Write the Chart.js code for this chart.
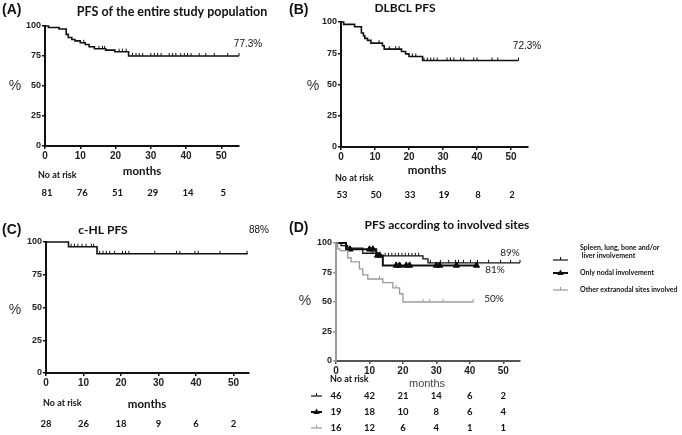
<!DOCTYPE html>
<html>
<head>
<meta charset="utf-8">
<script src="https://cdn.jsdelivr.net/npm/chart.js@4.4.0/dist/chart.umd.min.js"></script>
<style>
  html, body { margin: 0; padding: 0; background: #fff; }
  #wrap { position: relative; width: 682px; height: 435px; overflow: hidden; }
  canvas { position: absolute; }
</style>
</head>
<body>
<div id="wrap">
  <canvas id="chartA"></canvas>
  <canvas id="chartB"></canvas>
  <canvas id="chartC"></canvas>
  <canvas id="chartD"></canvas>
</div>
<script>
// shared axis ticks
const xTicks = [0, 10, 20, 30, 40, 50];
const yTicks = [0, 25, 50, 75, 100];
const riskMonths = [0, 10, 20, 30, 40, 50];

// (A) entire study population
const monthsA = [0, 1, 4, 6, 6.6, 7.6, 8.5, 10, 11.4, 12.5, 14, 17.2, 19.8, 23.7, 55];
const survA = [100, 98.8, 97.5, 93, 90.4, 88.7, 87.6, 86, 84.6, 82.7, 81, 79.9, 78.6, 75, 75];
const censorA = [11, 15.3, 16.3, 16.9, 21, 22, 23, 24.8, 25.8, 26.7, 27.7, 30, 31, 31.9, 32.9, 35.2, 36.2,
  37.1, 38.5, 39.5, 40.4, 41.4, 43.7, 45.6, 48, 51.8, 55];
const riskA = [81, 76, 51, 29, 14, 5];

// (B) DLBCL
const monthsB = [0, 0.8, 4, 6, 6.6, 7, 7.8, 8.8, 12.2, 12.7, 17.8, 19, 20, 24, 52.2];
const survB = [100, 98.1, 96.2, 91.2, 89, 86.9, 85.3, 83.1, 81, 78.3, 76.4, 74.5, 72.4, 69.2, 69.2];
const censorB = [11.2, 14.2, 16.1, 17.1, 21, 22, 24.4, 25.4, 26.4, 27.3, 28.3, 31.2, 32.2, 33.2, 35.2, 36.1,
  39, 40, 44.4, 46.1, 52.2];
const riskB = [53, 50, 33, 19, 8, 2];

// (C) c-HL
const monthsC = [0, 6, 13.6, 53.8];
const survC = [100, 96.4, 91, 91];
const censorC = [6.7, 7.6, 8.5, 9.6, 10.7, 12.1, 12.7, 14.3, 15.2, 16.1, 17, 18.3, 20.4, 21.2, 22.1, 29,
  34.8, 35.7, 39.7, 40.6, 46.4, 53.6];
const riskC = [28, 26, 18, 9, 6, 2];

// (D) by involved sites
const monthsD1 = [0, 1.5, 3.5, 8, 13, 26, 27.5, 55];
const survD1 = [100, 97.8, 95.6, 91.3, 89.1, 86.5, 83.2, 83.2];
const censorD1 = [11, 14.7, 15.7, 16.7, 17.7, 18.7, 19.7, 20.7, 21.7, 22.7, 23.7, 24.7, 28.2, 31.2, 33.7,
  35.7, 36.6, 38.1, 40.2, 42.3, 45.6, 49.2, 52.2, 55];
const monthsD2 = [0, 3, 12, 14, 42];
const survD2 = [100, 94.7, 89.5, 81, 81];
const censorD2 = [4.2, 10, 11, 12.4, 13.1, 18, 19, 21, 22, 30, 31, 36, 42];
const monthsD3 = [0, 0.5, 1.2, 3.5, 4.5, 7, 8, 9.5, 14, 17, 19, 20, 41];
const survD3 = [100, 95, 93.5, 87.5, 84, 78, 73, 69.5, 66.5, 62, 57, 50, 50];
const censorD3 = [13, 18, 26, 28, 32, 41];
const riskD1 = [46, 42, 21, 14, 6, 2];
const riskD2 = [19, 18, 10, 8, 6, 4];
const riskD3 = [16, 12, 6, 4, 1, 1];

function survAt(months, surv, t) {
  let v = surv[0];
  for (let i = 0; i < months.length; i++) if (months[i] <= t) v = surv[i];
  return v;
}
function kmLine(months, surv, color, width) {
  return {
    data: months.map((m, i) => ({ x: m, y: surv[i] })),
    stepped: 'before', borderColor: color, borderWidth: width,
    pointRadius: 0, fill: false, clip: false
  };
}
function censorMarks(months, surv, censor, color) {
  return {
    data: censor.map(t => ({ x: t, y: survAt(months, surv, t) })),
    showLine: false, pointStyle: 'dash', rotation: -90, pointRadius: 3,
    pointBorderColor: color, pointBorderWidth: 1, clip: false
  };
}
function triangleMarks(months, surv, censor) {
  return {
    data: censor.map(t => ({ x: t, y: survAt(months, surv, t) })),
    showLine: false, pointStyle: 'triangle', pointRadius: 3.5,
    pointBackgroundColor: '#000', pointBorderColor: '#000', pointBorderWidth: 1, clip: false
  };
}

function panel(id, box, area, xMax, datasets, axisColors, texts, riskRows, extra) {
  const cv = document.getElementById(id);
  cv.width = box.w; cv.height = box.h;
  cv.style.left = box.x + 'px'; cv.style.top = box.y + 'px';
  cv.style.width = box.w + 'px'; cv.style.height = box.h + 'px';
  const L = area.left - box.x, R = area.right - box.x, T = area.top - box.y, B = area.bottom - box.y;

  const textPlugin = {
    id: 'panelText' + id,
    afterDraw(chart) {
      const ctx = chart.ctx;
      ctx.save();
      ctx.textBaseline = 'middle';
      texts.forEach(t => {
        ctx.font = t.font; ctx.fillStyle = t.color || '#111';
        ctx.textAlign = t.align || 'center';
        ctx.fillText(t.text, t.x - box.x, t.y - box.y);
      });
      const xs = chart.scales.x;
      riskRows.forEach(row => {
        ctx.font = row.font; ctx.fillStyle = '#111'; ctx.textAlign = 'center';
        row.values.forEach((v, i) => {
          ctx.fillText(String(v), xs.getPixelForValue(riskMonths[i]) + (row.dx || 0), row.y - box.y);
        });
      });
      if (extra) extra(ctx, box);
      ctx.restore();
    }
  };

  new Chart(cv, {
    type: 'line',
    data: { datasets: datasets },
    options: {
      responsive: false,
      animation: false,
      events: [],
      layout: { padding: { left: 0, top: T, right: box.w - R, bottom: 0 } },
      plugins: { legend: { display: false }, tooltip: { enabled: false } },
      scales: {
        x: {
          type: 'linear', min: 0, max: xMax,
          afterFit: s => { s.height = box.h - B; },
          afterBuildTicks: s => { s.ticks = xTicks.map(v => ({ value: v })); },
          ticks: { font: { family: 'Liberation Sans', size: 10, weight: 'bold' }, color: '#222', padding: 1, maxRotation: 0 },
          grid: { drawOnChartArea: false, tickLength: 3, color: axisColors.x, lineWidth: 1.5 },
          border: { color: axisColors.x, width: 2 }
        },
        y: {
          type: 'linear', min: 0, max: 100,
          afterFit: s => { s.width = L; },
          afterBuildTicks: s => { s.ticks = yTicks.map(v => ({ value: v })); },
          ticks: { font: { family: 'Liberation Sans', size: 9, weight: 'bold' }, color: '#222', padding: 1 },
          grid: { drawOnChartArea: false, tickLength: 3, color: axisColors.y, lineWidth: 1.5 },
          border: { color: axisColors.y, width: 2 }
        }
      }
    },
    plugins: [textPlugin]
  });
}

const fLetter = 'bold 14px "Liberation Sans"';
const fTitle = 'bold 12px Lato';
const fPct = '14px "Liberation Sans"';
const fEnd = '10px "Liberation Sans"';
const fMonths = 'bold 11.5px Lato';
const fRiskHead = 'bold 9px Lato';
const fRisk = 'bold 9.5px Lato';
const black = { x: '#111', y: '#111' };

// (A)
panel('chartA', { x: 0, y: 0, w: 300, h: 215 }, { left: 45, right: 239, top: 26, bottom: 146 }, 55,
  [kmLine(monthsA, survA, '#111', 1.6), censorMarks(monthsA, survA, censorA, '#111')], black,
  [
    { text: '(A)', x: 2, y: 10, font: fLetter, align: 'left' },
    { text: 'PFS of the entire study population', x: 172, y: 12, font: 'bold 12.5px Lato' },
    { text: '%', x: 15, y: 86, font: fPct, color: '#333' },
    { text: '77.3%', x: 248, y: 44, font: fEnd, color: '#111' },
    { text: 'months', x: 142, y: 171, font: fMonths },
    { text: 'No at risk', x: 38, y: 175, font: fRiskHead, align: 'left' }
  ],
  [{ values: riskA, y: 193, font: fRisk, dx: 2 }]);

// (B)
panel('chartB', { x: 280, y: 0, w: 402, h: 215 }, { left: 341, right: 528, top: 22, bottom: 147 }, 55,
  [kmLine(monthsB, survB, '#111', 1.6), censorMarks(monthsB, survB, censorB, '#111')], black,
  [
    { text: '(B)', x: 289, y: 10, font: fLetter, align: 'left' },
    { text: 'DLBCL PFS', x: 405, y: 8, font: fTitle },
    { text: '%', x: 313, y: 86, font: fPct, color: '#333' },
    { text: '72.3%', x: 527, y: 46, font: fEnd, color: '#111' },
    { text: 'months', x: 427, y: 170, font: fMonths },
    { text: 'No at risk', x: 335, y: 178, font: fRiskHead, align: 'left' }
  ],
  [{ values: riskB, y: 195, font: fRisk, dx: 1 }]);

// (C)
panel('chartC', { x: 0, y: 215, w: 290, h: 220 }, { left: 46, right: 248.5, top: 242, bottom: 373 }, 54,
  [kmLine(monthsC, survC, '#111', 1.6), censorMarks(monthsC, survC, censorC, '#111')], black,
  [
    { text: '(C)', x: 2, y: 230, font: fLetter, align: 'left' },
    { text: 'c-HL PFS', x: 103, y: 230, font: fTitle },
    { text: '%', x: 15, y: 310, font: fPct, color: '#333' },
    { text: '88%', x: 259, y: 230, font: fEnd, color: '#111' },
    { text: 'months', x: 147, y: 404, font: fMonths },
    { text: 'No at risk', x: 43, y: 403, font: fRiskHead, align: 'left' }
  ],
  [{ values: riskC, y: 424, font: fRisk, dx: 0 }]);

// (D)
function legendMark(ctx, kind, x1, x2, y) {
  ctx.save();
  const gray = '#9a9a9a';
  ctx.strokeStyle = kind === 'gray' ? gray : '#111';
  ctx.fillStyle = '#111';
  ctx.lineWidth = kind === 'tri' ? 2 : 1.2;
  ctx.beginPath(); ctx.moveTo(x1, y); ctx.lineTo(x2, y); ctx.stroke();
  const xm = (x1 + x2) / 2;
  if (kind === 'tri') {
    ctx.beginPath(); ctx.moveTo(xm, y - 3.5); ctx.lineTo(xm + 3.2, y + 2); ctx.lineTo(xm - 3.2, y + 2);
    ctx.closePath(); ctx.fill();
  } else {
    ctx.lineWidth = 1;
    ctx.beginPath(); ctx.moveTo(xm, y); ctx.lineTo(xm, y - 3); ctx.stroke();
  }
  ctx.restore();
}
const fLegend = 'bold 7px Lato';
panel('chartD', { x: 280, y: 215, w: 402, h: 220 }, { left: 336, right: 520, top: 243, bottom: 361 }, 55,
  [
    kmLine(monthsD3, survD3, '#9a9a9a', 1.3), censorMarks(monthsD3, survD3, censorD3, '#9a9a9a'),
    kmLine(monthsD1, survD1, '#111', 1.3), censorMarks(monthsD1, survD1, censorD1, '#111'),
    kmLine(monthsD2, survD2, '#111', 2), triangleMarks(monthsD2, survD2, censorD2)
  ],
  { x: '#555', y: '#9a9a9a' },
  [
    { text: '(D)', x: 289, y: 228, font: fLetter, align: 'left' },
    { text: 'PFS according to involved sites', x: 447, y: 225, font: fTitle },
    { text: '%', x: 305, y: 301, font: fPct, color: '#333' },
    { text: '89%', x: 510, y: 253, font: '10px Lato', color: '#222' },
    { text: '81%', x: 495, y: 270, font: '10px Lato', color: '#222' },
    { text: '50%', x: 494, y: 299, font: '10px Lato', color: '#222' },
    { text: 'months', x: 427, y: 384, font: '11px "Liberation Sans"', color: '#444' },
    { text: 'No at risk', x: 330, y: 379, font: fRiskHead, align: 'left' },
    { text: 'Spleen, lung, bone and/or', x: 580, y: 248, font: fLegend, align: 'left' },
    { text: ' liver involvement', x: 580, y: 256, font: fLegend, align: 'left' },
    { text: 'Only nodal involvement', x: 580, y: 273, font: fLegend, align: 'left' },
    { text: 'Other extranodal sites involved', x: 580, y: 290, font: fLegend, align: 'left' }
  ],
  [
    { values: riskD1, y: 396, font: fRisk, dx: 0 },
    { values: riskD2, y: 412, font: fRisk, dx: 0 },
    { values: riskD3, y: 428, font: fRisk, dx: 0 }
  ],
  (ctx, box) => {
    // legend samples
    legendMark(ctx, 'thin', 553 - box.x, 568 - box.x, 260 - box.y);
    legendMark(ctx, 'tri', 553 - box.x, 568 - box.x, 273 - box.y);
    legendMark(ctx, 'gray', 553 - box.x, 568 - box.x, 290 - box.y);
    // at-risk row markers
    legendMark(ctx, 'thin', 311 - box.x, 322 - box.x, 396 - box.y);
    legendMark(ctx, 'tri', 311 - box.x, 322 - box.x, 412 - box.y);
    legendMark(ctx, 'gray', 311 - box.x, 322 - box.x, 428 - box.y);
  });
</script>
</body>
</html>
